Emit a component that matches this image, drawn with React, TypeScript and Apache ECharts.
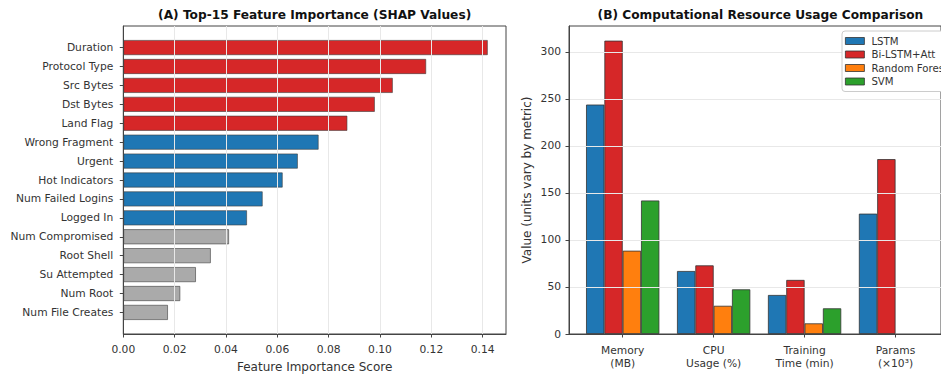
import React, { useEffect, useRef } from "react";
import * as echarts from "echarts";

const features = [
  "Duration", "Protocol Type", "Src Bytes", "Dst Bytes", "Land Flag",
  "Wrong Fragment", "Urgent", "Hot Indicators", "Num Failed Logins", "Logged In",
  "Num Compromised", "Root Shell", "Su Attempted", "Num Root", "Num File Creates",
];
const importance = [
  0.142, 0.118, 0.105, 0.098, 0.0873,
  0.0761, 0.068, 0.0621, 0.0543, 0.0482,
  0.0412, 0.0341, 0.0283, 0.0222, 0.0174,
];
const tiers = [
  "high", "high", "high", "high", "high",
  "mid", "mid", "mid", "mid", "mid",
  "low", "low", "low", "low", "low",
];
const xTicks = [0, 0.02, 0.04, 0.06, 0.08, 0.1, 0.12, 0.14];

const metrics = ["Memory\n(MB)", "CPU\nUsage (%)", "Training\nTime (min)", "Params\n(×10³)"];
const modelNames = ["LSTM", "Bi-LSTM+Att", "Random Forest", "SVM"];
const lstm = [244, 67, 41.5, 128];
const biLstm = [312, 73, 57.5, 186];
const randomForest = [88.6, 30, 11.3, null];
const svm = [142, 47.5, 27.3, null];
const yTicks = [0, 50, 100, 150, 200, 250, 300];

const FONT = "DejaVu Sans";
const tierColor: Record<string, string> = { high: "#d62728", mid: "#1f77b4", low: "#aaaaaa" };
const modelColors = ["#1f77b4", "#d62728", "#ff7f0e", "#2ca02c"];

export default function App() {
  const ref = useRef<HTMLDivElement>(null);
  useEffect(() => {
    if (!ref.current) return;
    const chart = echarts.init(ref.current, undefined, { renderer: "svg" });
    const xMax = Math.max(...importance) * 1.05;
    const yMax = Math.max(...biLstm) * 1.05;
    const spine = "#444";
    const gridColor = "#e8e8e8";
    const tickLabel = { color: "#333", fontFamily: FONT, fontSize: 10.7 };

    // left plot geometry
    const L = { left: 123.3, top: 26, width: 382.7, height: 308 };
    const nCat = features.length;
    const unit = L.height / (nCat - 1 + 0.8 + 2 * 0.05 * (nCat - 1 + 0.8));
    const innerTop = L.top + (0.05 * (nCat - 1 + 0.8) + 0.4 - 0.5) * unit;
    const innerH = nCat * unit;

    // right plot geometry
    const R = { left: 569, top: 26, width: 382.8, height: 308 };
    const nG = metrics.length;
    const span = nG - 1 + 0.8;
    const band = R.width / (span * 1.1);
    const innerLeft = R.left + (0.05 * span + 0.4 - 0.5) * band;

    const seriesR = [lstm, biLstm, randomForest, svm].map((d, i) => ({
      type: "bar",
      name: modelNames[i],
      xAxisIndex: 3,
      yAxisIndex: 3,
      data: d,
      barWidth: band * 0.2,
      barGap: "0%",
      itemStyle: { color: modelColors[i], borderColor: "#333", borderWidth: 0.8 },
      z: 3,
    }));

    chart.setOption({
      animation: false,
      backgroundColor: "#fff",
      textStyle: { fontFamily: FONT },
      grid: [
        { left: L.left, top: L.top, width: L.width, height: L.height, show: true, borderColor: spine, borderWidth: 1, backgroundColor: "transparent", z: 0 },
        { left: L.left, top: innerTop, width: L.width, height: innerH },
        { left: R.left, top: R.top, width: R.width, height: R.height, show: true, borderColor: spine, borderWidth: 1, backgroundColor: "transparent", z: 0 },
        { left: innerLeft, top: R.top, width: band * nG, height: R.height },
      ],
      xAxis: [
        {
          gridIndex: 0, type: "value", min: 0, max: xMax, interval: 0.02,
          axisLine: { show: true, lineStyle: { color: spine, width: 1 } },
          axisTick: { show: true, length: 3.5, lineStyle: { color: spine }, customValues: xTicks },
          axisLabel: { ...tickLabel, margin: 9.5, formatter: (v: number) => v.toFixed(2), customValues: xTicks },
          splitLine: { show: true, lineStyle: { color: gridColor, width: 1 } },
          z: 5,
        },
        { gridIndex: 1, type: "value", min: 0, max: xMax, show: false },
        {
          gridIndex: 2, type: "value", min: 0, max: 1,
          axisLine: { show: true, onZero: false, lineStyle: { color: spine, width: 1 } },
          axisTick: { show: false }, axisLabel: { show: false }, splitLine: { show: false },
          z: 5,
        },
        {
          gridIndex: 3, type: "category", data: metrics,
          axisLine: { show: false },
          axisTick: { show: true, alignWithLabel: true, length: 3.5, lineStyle: { color: spine } },
          axisLabel: { ...tickLabel, margin: 9.5, lineHeight: 13.5, interval: 0 },
          splitLine: { show: false },
        },
      ],
      yAxis: [
        {
          gridIndex: 0, type: "value", min: 0, max: 1,
          axisLine: { show: true, lineStyle: { color: spine, width: 1 } },
          axisTick: { show: false }, axisLabel: { show: false }, splitLine: { show: false },
          z: 5,
        },
        {
          gridIndex: 1, type: "category", data: features, inverse: true,
          axisLine: { show: false },
          axisTick: { show: true, alignWithLabel: true, length: 3.5, lineStyle: { color: spine } },
          axisLabel: { ...tickLabel, margin: 10, interval: 0 },
        },
        {
          gridIndex: 2, type: "value", min: 0, max: yMax, interval: 50,
          axisLine: { show: true, lineStyle: { color: spine, width: 1 } },
          axisTick: { show: true, length: 3.5, lineStyle: { color: spine }, customValues: yTicks },
          axisLabel: { ...tickLabel, margin: 8, customValues: yTicks },
          splitLine: { show: true, lineStyle: { color: gridColor, width: 1 } },
          z: 5,
        },
        { gridIndex: 3, type: "value", min: 0, max: yMax, show: false },
      ],
      legend: {
        orient: "vertical",
        left: 842,
        top: 31,
        z: 20,
        padding: [5, 40, 5, 3],
        itemWidth: 19,
        itemHeight: 7,
        itemGap: 3.5,
        backgroundColor: "#fff",
        borderColor: "#cccccc",
        borderWidth: 1,
        borderRadius: 3,
        icon: "rect",
        data: modelNames,
        itemStyle: { borderColor: "#333", borderWidth: 0.8 },
        textStyle: { color: "#333", fontFamily: FONT, fontSize: 10.2, padding: [0, 0, 0, 2] },
      },
      series: [
        {
          type: "bar",
          xAxisIndex: 1,
          yAxisIndex: 1,
          barWidth: "80%",
          data: importance.map((v, i) => ({
            value: v,
            itemStyle: { color: tierColor[tiers[i]] },
          })),
          itemStyle: { borderColor: "rgba(60,60,60,0.75)", borderWidth: 0.8 },
          z: 3,
        },
        ...seriesR,
      ],
      graphic: [
        {
          type: "text", x: L.left + L.width / 2, y: 15,
          style: { text: "(A) Top-15 Feature Importance (SHAP Values)", fill: "#111", font: `bold 12.2px "${FONT}"`, textAlign: "center", textVerticalAlign: "middle" },
        },
        {
          type: "text", x: R.left + R.width / 2, y: 15,
          style: { text: "(B) Computational Resource Usage Comparison", fill: "#111", font: `bold 12.2px "${FONT}"`, textAlign: "center", textVerticalAlign: "middle" },
        },
        {
          type: "text", x: L.left + L.width / 2, y: 366.7,
          style: { text: "Feature Importance Score", fill: "#333", font: `12px "${FONT}"`, textAlign: "center", textVerticalAlign: "middle" },
        },
        {
          type: "text", x: 527, y: 180, rotation: Math.PI / 2,
          style: { text: "Value (units vary by metric)", fill: "#333", font: `12px "${FONT}"`, textAlign: "center", textVerticalAlign: "middle" },
        },
      ],
    });
    return () => chart.dispose();
  }, []);
  return (
    <div
      ref={ref}
      style={{ position: "absolute", left: 0, top: 0, width: 941, height: 375 }}
    />
  );
}
